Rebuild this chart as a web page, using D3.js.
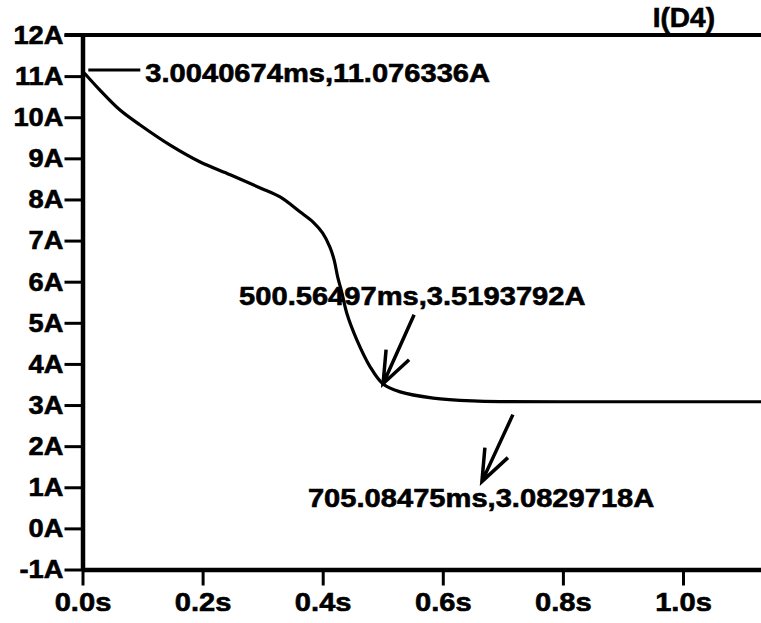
<!DOCTYPE html>
<html>
<head>
<meta charset="utf-8">
<script src="https://cdn.jsdelivr.net/npm/d3@7"></script>
<style>
  body { margin: 0; background: #fff; }
  text { font-family: "Liberation Sans", Arial, sans-serif; font-weight: bold; fill: #000; stroke: #000; stroke-width: 0.6px; }
</style>
</head>
<body>
<div id="chart"></div>
<script>
// I(D4) transient
var times    = [0.003, 0.029, 0.062, 0.096, 0.146, 0.196, 0.246, 0.296, 0.329, 0.362, 0.384, 0.400, 0.412, 0.419, 0.425, 0.432, 0.440, 0.457, 0.479, 0.500, 0.529, 0.584, 0.650, 0.705, 0.8, 1.0, 1.2];
var currents = [11.076, 10.66, 10.18, 9.81, 9.32, 8.91, 8.60, 8.28, 8.06, 7.70, 7.45, 7.18, 6.84, 6.53, 6.11, 5.73, 5.24, 4.58, 3.93, 3.52, 3.32, 3.17, 3.10, 3.083, 3.08, 3.08, 3.08];

var yTicks = [-1, 0, 1, 2, 3, 4, 5, 6, 7, 8, 9, 10, 11, 12];
var xTicks = [0, 0.2, 0.4, 0.6, 0.8, 1.0];

var markerT = [0.0030040674, 0.50056497, 0.70508475];
var markerI = [11.076336, 3.5193792, 3.0829718];
var markerText = ["3.0040674ms,11.076336A", "500.56497ms,3.5193792A", "705.08475ms,3.0829718A"];

var width = 761, height = 623;
var plotLeft = 82.5, plotTop = 35, plotBottom = 569.5;

var x = d3.scaleLinear().domain([0, 1.2]).range([plotLeft, plotLeft + 1.2 * 600.5]);
var y = d3.scaleLinear().domain([-1, 12]).range([plotBottom, plotTop]);

var svg = d3.select("#chart").append("svg")
    .attr("width", width)
    .attr("height", height);

// stretch a text sideways around its anchor
function widen(sel, sx) {
    sel.each(function() {
        var t = d3.select(this);
        var tx = +t.attr("x") || 0, ty = +t.attr("y") || 0;
        t.attr("x", 0).attr("y", 0)
         .attr("transform", "translate(" + tx + "," + ty + ") scale(" + sx + ",1)");
    });
}

// top border line
svg.append("line")
    .attr("x1", plotLeft - 18).attr("x2", x(1.2))
    .attr("y1", y(12)).attr("y2", y(12))
    .attr("stroke", "#000").attr("stroke-width", 4);

var yAxis = svg.append("g")
    .attr("transform", "translate(" + plotLeft + ",0)")
    .call(d3.axisLeft(y).tickValues(yTicks).tickSize(18).tickSizeOuter(0).tickPadding(1)
        .tickFormat(function(d) { return d + "A"; }));

var xAxis = svg.append("g")
    .attr("transform", "translate(0," + plotBottom + ")")
    .call(d3.axisBottom(x).tickValues(xTicks).tickSize(16).tickSizeOuter(0).tickPadding(7)
        .tickFormat(function(d) { return d3.format(".1f")(d) + "s"; }));

svg.selectAll(".domain").attr("stroke", "#000").attr("stroke-width", 4.5);
svg.selectAll(".tick line").attr("stroke", "#000").attr("stroke-width", 3);
svg.selectAll(".tick text")
    .attr("fill", "#000")
    .style("font-size", "26px");
widen(yAxis.selectAll(".tick text"), 1.05);
widen(xAxis.selectAll(".tick text"), 1.12);

svg.append("text")
    .attr("x", 715).attr("y", 27)
    .attr("text-anchor", "end")
    .style("font-size", "28px")
    .text("I(D4)");

var line = d3.line()
    .x(function(d, i) { return x(times[i]); })
    .y(function(d) { return y(d); })
    .curve(d3.curveCatmullRom.alpha(0.5));

svg.append("path")
    .datum(currents)
    .attr("fill", "none")
    .attr("stroke", "#000")
    .attr("stroke-width", 3.2)
    .attr("d", line);

// cursor labels
var m0x = x(markerT[0]), m0y = y(markerI[0]);
svg.append("line")
    .attr("x1", m0x + 4).attr("x2", m0x + 56)
    .attr("y1", m0y - 3).attr("y2", m0y - 3)
    .attr("stroke", "#000").attr("stroke-width", 3);
svg.append("text")
    .attr("x", m0x + 61).attr("y", m0y + 9)
    .style("font-size", "26px")
    .text(markerText[0])
    .call(widen, 1.12);

// arrow labels: tip offset, tail offset, text offset from the cursor point
var arrows = [
    {i: 1, tip: [0, 0], tail: [31, -69], txt: [-144, -79]},
    {i: 2, tip: [-24, 80], tail: [7, 13], txt: [-198, 105]}
];

arrows.forEach(function(a) {
    var px = x(markerT[a.i]), py = y(markerI[a.i]);
    var tx = px + a.tip[0], ty = py + a.tip[1];
    svg.append("path")
        .attr("d", "M" + (px + a.tail[0]) + "," + (py + a.tail[1]) + "L" + tx + "," + ty +
            "M" + (tx + 3) + "," + (ty - 34) + "L" + tx + "," + ty + "L" + (tx + 26) + "," + (ty - 24))
        .attr("fill", "none")
        .attr("stroke", "#000")
        .attr("stroke-width", 3.5);
    svg.append("text")
        .attr("x", px + a.txt[0]).attr("y", py + a.txt[1])
        .style("font-size", "26px")
        .text(markerText[a.i])
        .call(widen, 1.12);
});
</script>
</body>
</html>
